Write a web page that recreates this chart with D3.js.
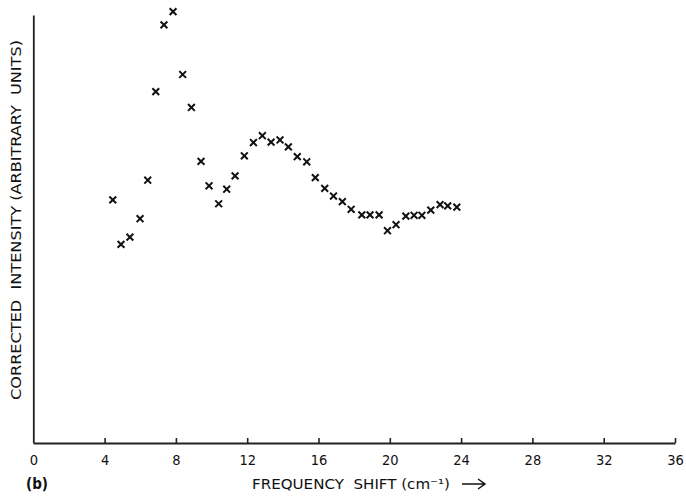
<!DOCTYPE html>
<html>
<head>
<meta charset="utf-8">
<script src="https://cdn.jsdelivr.net/npm/d3@7/dist/d3.min.js"></script>
<style>
  html, body { margin: 0; padding: 0; background: #fff; }
  svg { display: block; }
  text { font-family: "DejaVu Sans Condensed", "DejaVu Sans", sans-serif; fill: #111; white-space: pre; }
</style>
</head>
<body>
<svg id="chart" width="686" height="497"></svg>
<script>
// Frequency shift (cm^-1) of each measured point
const shift = [4.46, 4.92, 5.42, 5.99, 6.42, 6.87, 7.33, 7.84, 8.38, 8.87,
               9.41, 9.86, 10.40, 10.85, 11.32, 11.84, 12.35, 12.85, 13.34, 13.84,
               14.31, 14.81, 15.34, 15.82, 16.35, 16.84, 17.34, 17.83, 18.43, 18.89,
               19.40, 19.87, 20.35, 20.90, 21.36, 21.80, 22.30, 22.82, 23.25, 23.76];
// Corrected intensity (arbitrary units, 0-100 = axis height)
const intensity = [56.8, 46.4, 48.1, 52.4, 61.4, 82.1, 97.7, 100.8, 86.1, 78.4,
                   65.8, 60.1, 55.9, 59.3, 62.4, 67.1, 70.2, 71.8, 70.3, 70.8,
                   69.2, 66.9, 65.7, 62.0, 59.5, 57.7, 56.4, 54.6, 53.3, 53.3,
                   53.3, 49.6, 51.0, 53.0, 53.2, 53.2, 54.4, 55.7, 55.4, 55.1];
const xTicks = [0, 4, 8, 12, 16, 20, 24, 28, 32, 36];
const xTitle = "FREQUENCY  SHIFT (cm\u207B\u00B9)";
const yTitle = "CORRECTED  INTENSITY (ARBITRARY  UNITS)";
const panelLabel = "(b)";

const svg = d3.select("#chart");
const x = d3.scaleLinear().domain([0, 36]).range([33.3, 675]);
const y = d3.scaleLinear().domain([0, 100]).range([443, 15]);

// x axis
const gx = svg.append("g").attr("transform", `translate(0,${y(0)})`)
  .call(d3.axisBottom(x).tickValues(xTicks).tickSizeInner(-5).tickSizeOuter(0).tickPadding(12));
gx.select(".domain").attr("stroke", "#222").attr("stroke-width", 1.8);
gx.selectAll(".tick line").attr("stroke", "#222").attr("stroke-width", 1.6);
gx.selectAll(".tick").filter(d => d === 0).select("line").remove();
gx.selectAll(".tick text").attr("font-size", 14.5)
  .attr("font-family", "'DejaVu Sans Condensed', 'DejaVu Sans', sans-serif").attr("fill", "#111");

// y axis (plain line)
const gy = svg.append("g").attr("transform", `translate(${x(0)},0)`)
  .call(d3.axisLeft(y).tickValues([]).tickSizeOuter(0));
gy.select(".domain").attr("stroke", "#222").attr("stroke-width", 1.8);

// markers
const pts = shift.map((s, i) => [s, intensity[i]]);
const r = 3.4;
svg.append("g").selectAll("path").data(pts).join("path")
  .attr("transform", d => `translate(${x(d[0])},${y(d[1])})`)
  .attr("d", `M${-r},${-r}L${r},${r}M${-r},${r}L${r},${-r}`)
  .attr("stroke", "#111").attr("stroke-width", 2).attr("fill", "none");

// titles
svg.append("text").attr("x", 252).attr("y", 489).attr("font-size", 14.5)
  .attr("textLength", 198).attr("lengthAdjust", "spacingAndGlyphs").text(xTitle);
svg.append("path").attr("d", "M462,484 L484,484 M478,479 L485,484 L478,489")
  .attr("stroke", "#111").attr("stroke-width", 1.5).attr("fill", "none");
svg.append("text").attr("x", 26).attr("y", 489).attr("font-size", 15)
  .attr("font-weight", "bold").text(panelLabel);
svg.append("text").attr("transform", "translate(21,220) rotate(-90)")
  .attr("text-anchor", "middle").attr("font-size", 14.5)
  .attr("textLength", 360).attr("lengthAdjust", "spacingAndGlyphs").text(yTitle);
</script>
</body>
</html>
